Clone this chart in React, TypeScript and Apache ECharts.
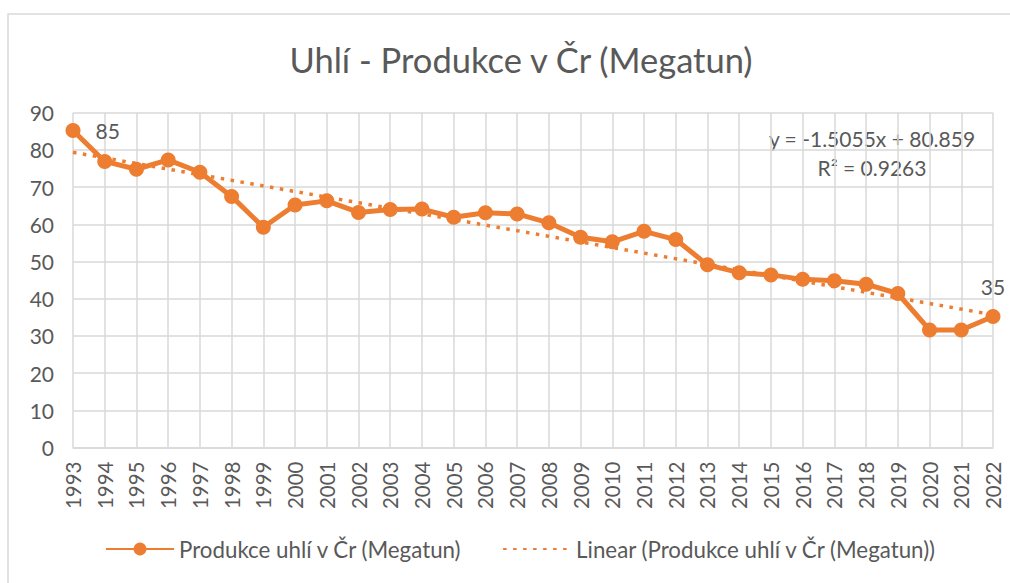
import React, { useEffect, useRef } from "react";
import * as echarts from "echarts";

const years: string[] = [
  "1993","1994","1995","1996","1997","1998","1999","2000","2001","2002",
  "2003","2004","2005","2006","2007","2008","2009","2010","2011","2012",
  "2013","2014","2015","2016","2017","2018","2019","2020","2021","2022",
];
const production: number[] = [
  85.2, 76.9, 74.8, 77.3, 74.0, 67.5, 59.2, 65.2, 66.3, 63.2,
  64.0, 64.1, 61.9, 63.1, 62.8, 60.4, 56.5, 55.3, 58.1, 55.9,
  49.1, 47.0, 46.4, 45.2, 44.8, 43.9, 41.4, 31.6, 31.6, 35.2,
];
const trendSlope = -1.5055;
const trendIntercept = 80.859;
const trendR2 = 0.9263;
const yTicks = { min: 0, max: 90, interval: 10 };

const seriesName = "Produkce uhlí v Čr (Megatun)";
const trendName = "Linear (Produkce uhlí v Čr (Megatun))";
const titleText = "Uhlí - Produkce v Čr (Megatun)";

const ORANGE = "#ED7D31";
const GRID = "#d9d9d9";
const TEXT = "#595959";
const FONT = "Lato, 'Open Sans', sans-serif";

export default function App() {
  const ref = useRef<HTMLDivElement>(null);
  useEffect(() => {
    if (!ref.current) return;
    const chart = echarts.init(ref.current, null, { renderer: "svg" });
    const n = years.length;
    const trend: (number | null)[] = years.map((_, i) =>
      i === 0 || i === n - 1 ? trendSlope * (i + 1) + trendIntercept : null
    );
    const lastIdx = n - 1;
    chart.setOption({
      animation: false,
      backgroundColor: "#ffffff",
      textStyle: { fontFamily: FONT },
      title: {
        text: titleText,
        left: 516,
        textAlign: "center",
        top: 37,
        textStyle: { fontFamily: FONT, fontSize: 34.5, fontWeight: "normal", color: TEXT },
      },
      grid: { left: 73, right: 17, top: 112.7, bottom: 135.5, containLabel: false },
      legend: {
        bottom: 18,
        left: 100,
        itemWidth: 68,
        itemHeight: 16,
        itemGap: 40,
        textStyle: { fontFamily: FONT, fontSize: 22.3, color: TEXT },
        data: [
          { name: seriesName },
          { name: trendName, itemStyle: { opacity: 0 } },
        ],
      },
      xAxis: {
        type: "category",
        data: years,
        boundaryGap: false,
        axisLine: { lineStyle: { color: GRID, width: 1.5 } },
        axisTick: { show: false },
        splitLine: { show: true, lineStyle: { color: GRID, width: 1.5 } },
        axisLabel: {
          rotate: 90,
          interval: 0,
          margin: 14,
          fontSize: 20.5,
          fontFamily: FONT,
          color: TEXT,
        },
      },
      yAxis: {
        type: "value",
        min: yTicks.min,
        max: yTicks.max,
        interval: yTicks.interval,
        axisLine: { show: false },
        axisTick: { show: false },
        splitLine: { lineStyle: { color: GRID, width: 1.5 } },
        axisLabel: { margin: 19, fontSize: 21, fontFamily: FONT, color: TEXT },
      },
      series: [
        {
          name: seriesName,
          type: "line",
          data: production.map((v, i) => ({
            value: v,
            label: {
              show: i === 0 || i === lastIdx,
              position: i === 0 ? "right" : "top",
              distance: i === 0 ? 15 : 12,
              formatter: () => String(Math.round(v)),
              fontSize: 21,
              fontFamily: FONT,
              color: TEXT,
            },
          })),
          symbol: "circle",
          symbolSize: 15,
          itemStyle: { color: ORANGE },
          lineStyle: { color: ORANGE, width: 5 },
          z: 3,
        },
        {
          name: trendName,
          type: "line",
          data: trend,
          connectNulls: true,
          symbol: "none",
          lineStyle: { color: ORANGE, width: 3.5, type: [3.5, 6.5] },
          itemStyle: { color: ORANGE },
          z: 2,
        },
      ],
      graphic: [
        {
          type: "rect",
          shape: { x: 8, y: 14, width: 1020, height: 600 },
          style: { fill: "none", stroke: GRID, lineWidth: 1.5 },
          silent: true,
        },
        {
          type: "text",
          x: 872,
          y: 138,
          style: {
            text: `y = ${trendSlope}x + ${trendIntercept}`,
            fontSize: 21,
            fontFamily: FONT,
            fill: TEXT,
            textAlign: "center",
            textVerticalAlign: "middle",
          },
        },
        {
          type: "text",
          x: 872,
          y: 167,
          style: {
            text: `R² = ${trendR2}`,
            fontSize: 21,
            fontFamily: FONT,
            fill: TEXT,
            textAlign: "center",
            textVerticalAlign: "middle",
          },
        },
      ],
    });
    return () => chart.dispose();
  }, []);
  return (
    <div
      ref={ref}
      style={{ position: "fixed", left: 0, top: 0, width: 1010, height: 583 }}
    />
  );
}
